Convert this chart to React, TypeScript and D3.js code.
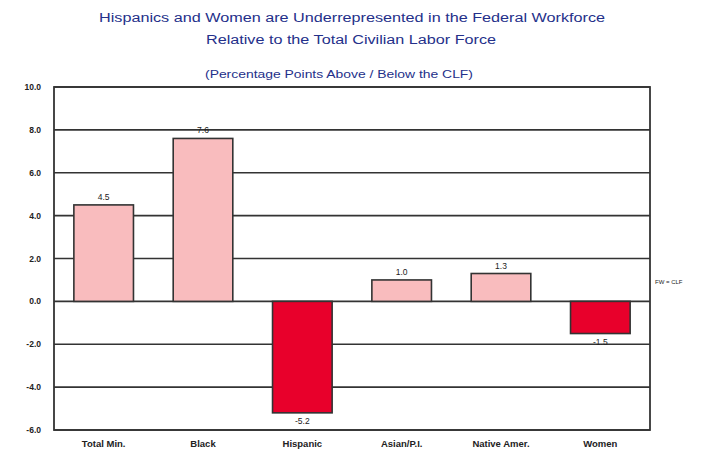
import * as d3 from "d3";

const categories = ["Total Min.", "Black", "Hispanic", "Asian/P.I.", "Native Amer.", "Women"];
const values = [4.5, 7.6, -5.2, 1.0, 1.3, -1.5];
const yTicks = [-6, -4, -2, 0, 2, 4, 6, 8, 10];

const width = 710;
const height = 451;
const margin = { top: 87, right: 60, bottom: 21, left: 54 };

export default function App() {
  const innerW = width - margin.left - margin.right;
  const innerH = height - margin.top - margin.bottom;

  const x = d3.scaleBand<string>().domain(categories).range([0, innerW]).paddingInner(0.4).paddingOuter(0.2);
  const y = d3.scaleLinear().domain([-6, 10]).range([innerH, 0]);

  const font = "Arial, 'Liberation Sans', sans-serif";
  const ink = "#333";
  const navy = "#24308a";

  return (
    <svg
      width={width}
      height={height}
      style={{ position: "absolute", left: 0, top: 0, background: "#fff" }}
      fontFamily={font}
    >
      {/* titles, stretched wide like the original */}
      <text x={99} y={22} fontSize={12.5} fill={navy} textLength={506} lengthAdjust="spacingAndGlyphs">
        Hispanics and Women are Underrepresented in the Federal Workforce
      </text>
      <text x={206} y={44} fontSize={12.5} fill={navy} textLength={290} lengthAdjust="spacingAndGlyphs">
        Relative to the Total Civilian Labor Force
      </text>
      <text x={205} y={78} fontSize={10} fill={navy} textLength={268} lengthAdjust="spacingAndGlyphs">
        (Percentage Points Above / Below the CLF)
      </text>

      <g transform={`translate(${margin.left},${margin.top})`}>
        {/* grid */}
        {yTicks.map((t) => (
          <line key={t} x1={0} x2={innerW} y1={y(t)} y2={y(t)} stroke={ink} strokeWidth={1.6} />
        ))}
        {/* bars */}
        {categories.map((c, i) => {
          const v = values[i];
          const y0 = y(Math.max(0, v));
          const h = Math.abs(y(v) - y(0));
          const cx = (x(c) ?? 0) + x.bandwidth() / 2;
          return (
            <g key={c}>
              <rect
                x={x(c)}
                y={y0}
                width={x.bandwidth()}
                height={h}
                fill={v >= 0 ? "#f9bcbe" : "#e8002b"}
                stroke={ink}
                strokeWidth={1.6}
              />
              <text x={cx} y={v >= 0 ? y(v) - 5 : y(v) + 11} textAnchor="middle" fontSize={8.5} fill="#222">
                {v.toFixed(1)}
              </text>
              <text x={cx} y={innerH + 17} textAnchor="middle" fontSize={9.5} fontWeight="bold" fill="#222">
                {c}
              </text>
            </g>
          );
        })}
        {/* frame */}
        <rect x={0} y={0} width={innerW} height={innerH} fill="none" stroke={ink} strokeWidth={1.8} />
        {/* y tick labels */}
        {yTicks.map((t) => (
          <text key={t} x={-13} y={y(t) + 3} textAnchor="end" fontSize={8.5} fontWeight="bold" fill="#222">
            {t.toFixed(1)}
          </text>
        ))}
        <text x={innerW + 5} y={y(0) - 17} fontSize={6} fill="#222">
          FW = CLF
        </text>
      </g>
    </svg>
  );
}
